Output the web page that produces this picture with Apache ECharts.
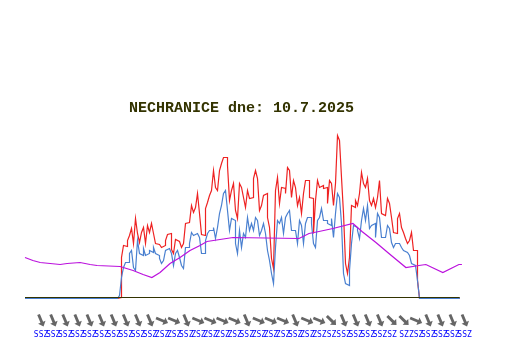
<!DOCTYPE html>
<html><head><meta charset="utf-8">
<script src="https://cdn.jsdelivr.net/npm/echarts@6/dist/echarts.min.js"></script>
<style>html,body{margin:0;padding:0;background:#fff}#c{width:532px;height:360px}</style>
</head><body><div id="c"></div>
<script>
const titleText = 'NECHRANICE dne: 10.7.2025';
const sampleStart = 312.12, sampleStep = 6.6055;
const redValues = [1,41,53,52,58,63,70,55,80,65,56,66,71,55,73,66,75,65,55,54,53,51,53,58,64,65,49,45,59,57,55,51,55,75,76,76,93,86,91,105,85,64,63,90,96,103,108,128,111,108,128,135,141,141,133,98,108,115,88,80,115,111,101,91,108,100,101,120,128,120,88,93,103,105,81,71,40,30,108,121,95,111,110,105,131,128,101,118,111,93,101,85,105,118,118,101,100,65,98,118,111,113,110,111,95,118,115,93,115,163,158,121,85,35,25,41,93,91,98,93,105,126,115,111,120,98,93,100,91,101,118,85,83,85,100,95,81,66,65,80,85,71,66,60,55,58,66,48,48,18,0];
const blueValues = [3,21,31,36,36,45,48,31,28,58,45,43,50,43,45,48,46,51,45,43,40,35,38,48,50,50,45,33,45,48,41,33,30,51,51,55,66,63,65,63,61,45,45,58,65,68,68,71,60,71,85,93,105,108,88,68,80,78,55,45,68,51,65,61,81,68,75,68,81,78,63,68,75,65,48,38,25,15,51,78,75,81,65,81,85,88,68,68,66,55,78,73,55,75,81,81,75,55,51,78,81,90,78,78,75,73,80,61,85,105,101,75,25,15,13,28,55,73,71,68,60,78,90,78,93,70,73,75,61,85,81,61,61,61,73,70,56,51,55,55,55,51,48,46,46,43,35,33,33,18,0];
const purpleMinutes = [0,26,50,83,116,139,182,215,238,314,357,390,419,446,479,512,545,578,601,644,687,796,905,938,971,1017,1083,1113,1159,1202,1258,1301,1324,1380,1433,1443];
const purpleValues = [41,38,36,35,34,35,36,34,33,32,28,24,21,26,35,41,48,53,57,59,61,60.5,60,65,67,70,75,67,56,45,31,33,34,26,34,34];
const baselineLevel = 1;
const windLabels = ['SSZ','SSZ','SSZ','SSZ','SSZ','SSZ','SSZ','SSZ','SSZ','SSZ','ZSZ','ZSZ','SSZ','ZSZ','ZSZ','ZSZ','ZSZ','SSZ','ZSZ','ZSZ','ZSZ','SSZ','ZSZ','ZSZ','SZ','SSZ','SSZ','SSZ','SSZ','SZ','SZ','ZSZ','SSZ','SSZ','SSZ','SSZ'];
const windRotate = {SSZ:-157.5, SZ:-135, ZSZ:-112.5};

const timed = vals => [[0,0],[sampleStart-sampleStep,0]].concat(vals.map((v,i)=>[sampleStart+i*sampleStep,v]), [[1436,0]]);
const lineS = (name,data,color,z,w,step) => ({name,type:'line',data,showSymbol:false,symbol:'none',smooth:false,clip:false,z,step:step||false,
  lineStyle:{color,width:w||1,join:'miter',cap:'butt'},itemStyle:{color},emphasis:{disabled:true},xAxisIndex:0,yAxisIndex:0,animation:false});

const chart = echarts.init(document.getElementById('c'),null,{renderer:'canvas'});
chart.setOption({
  animation:false,backgroundColor:'#fff',
  title:{text:titleText,left:129,top:101,padding:0,textStyle:{fontFamily:'Liberation Mono',fontSize:15,fontWeight:'bold',color:'#333300'}},
  grid:[{left:25,top:98.5,width:436,height:200},{left:35,top:315.5,width:435.6,height:10}],
  xAxis:[
    {type:'value',gridIndex:0,min:0,max:1440,show:false},
    {type:'category',gridIndex:1,data:windLabels,boundaryGap:true,axisLine:{show:false},axisTick:{show:false},splitLine:{show:false},
     axisLabel:{interval:0,hideOverlap:false,margin:5,fontFamily:'DejaVu Sans Mono',fontSize:8,color:'#0000ff'}}
  ],
  yAxis:[
    {type:'value',gridIndex:0,min:0,max:200,show:false},
    {type:'value',gridIndex:1,min:-1,max:1,show:false}
  ],
  series:[
    lineS('red',timed(redValues),'#ee2222',3,1.2,'end'),
    lineS('blue',timed(blueValues),'#4a80d0',4,1.2,'end'),
    lineS('purple',purpleMinutes.map((m,i)=>[m,purpleValues[i]]),'#bb11dd',5,1.2),
    lineS('base',[[0,baselineLevel],[1436,baselineLevel]],'#333300',6,1),
    {name:'wind',type:'scatter',xAxisIndex:1,yAxisIndex:1,animation:false,silent:true,
     data:windLabels.map((l,i)=>({value:[i,0],symbolRotate:windRotate[l]})),
     symbol:'path://M0,-10 L5,-3 L1.8,-3 L1.8,10 L-1.8,10 L-1.8,-3 L-5,-3 Z',
     symbolSize:[8,13],itemStyle:{color:'#555',opacity:.9}}
  ]
});
</script></body></html>
